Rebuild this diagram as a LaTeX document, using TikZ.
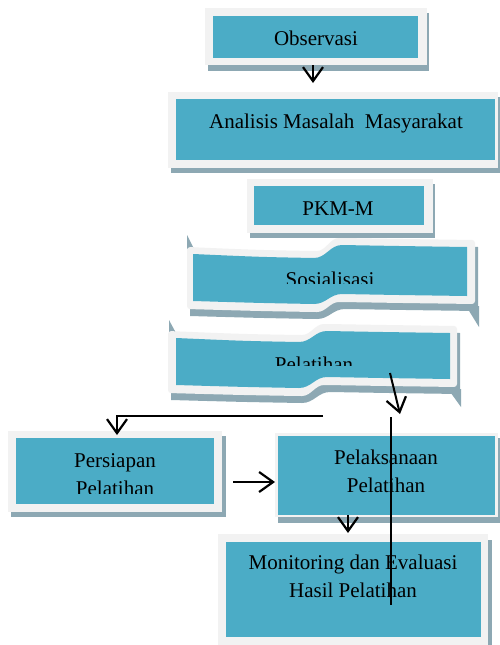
\documentclass[tikz,border=0pt]{standalone}
\usepackage{fontspec}
\setmainfont{Liberation Serif}
\usetikzlibrary{arrows.meta}
\definecolor{tealc}{RGB}{75,172,198}
\definecolor{framec}{RGB}{242,242,242}
\definecolor{shadowc}{RGB}{141,168,179}
% ribbon path: L R S T1 T2 B1 B2
\newcommand{\ribbonpath}[7]{(#1,#4) .. controls ({(#1+#3)/2},{#4+3}) .. ({#3-14},{#4+4}) .. controls ({#3-2},{#4+4}) and ({#3+2},#5) .. ({#3+14},#5) .. controls ({(#2+#3)/2},{#5+1}) .. (#2,{#5+2}) -- (#2,{#7+2}) .. controls ({(#2+#3)/2},{#7+1}) .. ({#3+14},#7) .. controls ({#3+2},#7) and ({#3-2},{#6+3}) .. ({#3-14},{#6+3}) .. controls ({(#1+#3)/2},{#6+2}) .. (#1,#6) -- cycle}
\tikzset{
  lbl/.style={font=\fontsize{21}{25}\selectfont, inner sep=0pt, anchor=base},
  conn/.style={line width=2pt, black},
  arr/.style={conn, -{Straight Barb[length=14pt,width=20pt,line width=2.2pt]}},
}
\begin{document}
\begin{tikzpicture}[x=1pt,y=-1pt]
\useasboundingbox (0,0) rectangle (499,645);
\fill[white] (0,0) rectangle (499,645);

% Sosialisasi ribbon
\fill[shadowc] (187,235) -- (187,249) -- (194,249) -- cycle;
\fill[shadowc] (466,306) -- (479,306) -- (479,327) -- cycle;
\fill[shadowc, shift={(3,7)}] \ribbonpath{187}{475}{328}{247}{238}{309}{302};
\fill[framec, rounded corners=3pt] \ribbonpath{187}{475}{328}{247}{238}{309}{302};
\fill[tealc] \ribbonpath{193}{467}{328}{254}{245}{301}{294};
\begin{scope}
  \clip (0,0) rectangle (499,283);
  \node[lbl] (sos) at (330,286) {Sosialisasi};
\end{scope}

% Pelatihan ribbon
\fill[shadowc] (169,320) -- (169,333) -- (176,333) -- cycle;
\fill[shadowc] (448,389) -- (461,389) -- (461,407) -- cycle;
\fill[shadowc, shift={(3,7)}] \ribbonpath{168}{457}{313}{331}{324}{393}{385};
\fill[framec, rounded corners=3pt] \ribbonpath{168}{457}{313}{331}{324}{393}{385};
\fill[tealc] \ribbonpath{176}{450}{313}{338}{331}{385}{377};
\begin{scope}
  \clip (0,0) rectangle (499,365);
  \node[lbl] (pel) at (314,371) {Pelatihan};
\end{scope}

% Observasi
\fill[shadowc] (208,13) rectangle (429,71);
\fill[framec] (205,8) rectangle (427,65);
\fill[tealc] (213,16) rectangle (418,58);
\node[lbl] (obs) at (316,45) {Observasi};

% Analisis
\fill[shadowc] (171,97) rectangle (501,173);
\fill[framec] (168,92) rectangle (498,168);
\fill[tealc] (176,99) rectangle (495,160);
\node[lbl] (ana) at (336,128) {Analisis Masalah\ \ Masyarakat};

% PKM-M
\fill[shadowc] (250,184) rectangle (435,238);
\fill[framec] (247,179) rectangle (433,233);
\fill[tealc] (254,186) rectangle (424,225);
\node[lbl] (pkm) at (338,215) {PKM-M};

% Persiapan
\fill[shadowc] (11,436) rectangle (226,517);
\fill[framec] (8,431) rectangle (222,512);
\fill[tealc] (16,438) rectangle (214,504);
\node[lbl] (pers1) at (115,467) {Persiapan};
\begin{scope}
  \clip (0,0) rectangle (499,493);
  \node[lbl] (pers2) at (115,495) {Pelatihan};
\end{scope}

% Pelaksanaan
\fill[shadowc] (278,438) rectangle (501,523);
\fill[framec] (275,433) rectangle (498,517);
\fill[tealc] (278,436) rectangle (495,515);
\node[lbl] (pelak1) at (386,464) {Pelaksanaan};
\node[lbl] (pelak2) at (386,492) {Pelatihan};

% Monitoring
\fill[shadowc] (222,540) rectangle (492,650);
\fill[framec] (218,534) rectangle (488,645);
\fill[tealc] (226,542) rectangle (481,637);
\node[lbl] (mon1) at (353,569) {Monitoring dan Evaluasi};
\node[lbl] (mon2) at (353,597) {Hasil Pelatihan};

% connectors
\coordinate (a1s) at (313,65);  \coordinate (a1e) at (313,83);
\coordinate (a2s) at (390,373); \coordinate (a2e) at (400,414);
\coordinate (a3s) at (323,416); \coordinate (a3m) at (117,416); \coordinate (a3e) at (117,435);
\coordinate (a4s) at (233,482); \coordinate (a4e) at (275,482);
\coordinate (a5s) at (348,515); \coordinate (a5e) at (348,533);
\coordinate (l1s) at (391,417); \coordinate (l1e) at (391,605);

\draw[arr] (a1s) -- (a1e);
\draw[arr] (a2s) -- (a2e);
\draw[arr] (a3s) -- (a3m) -- (a3e);
\draw[arr] (a4s) -- (a4e);
\draw[arr] (a5s) -- (a5e);
\draw[conn] (l1s) -- (l1e);
\end{tikzpicture}
\end{document}
